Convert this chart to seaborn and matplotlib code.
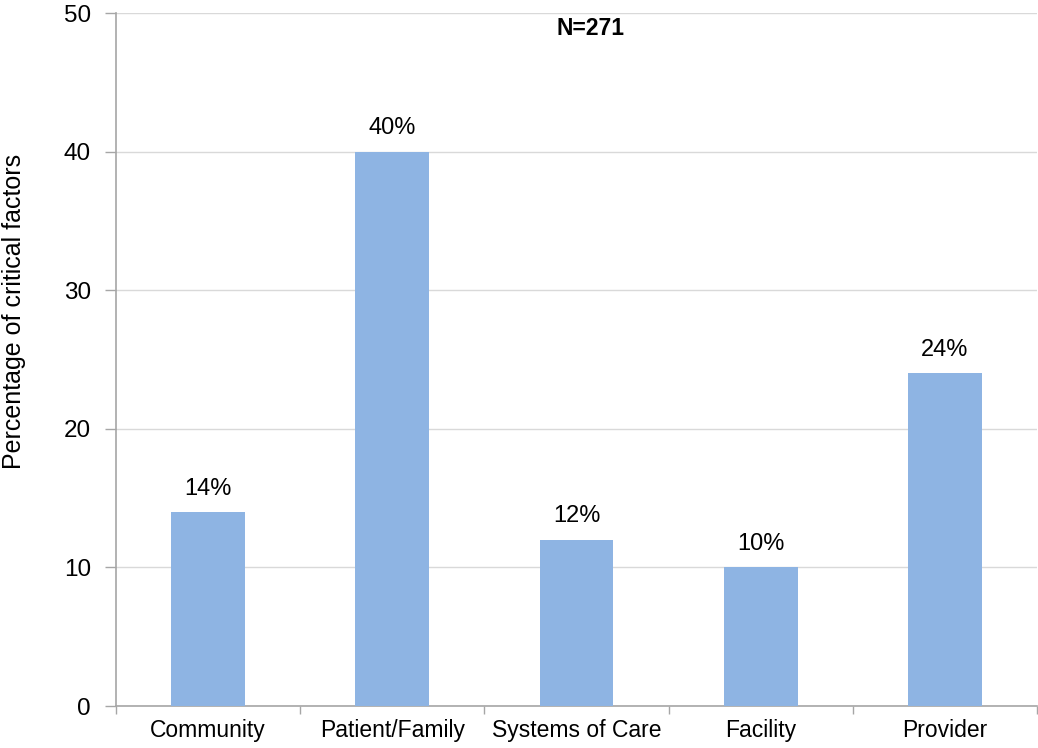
import matplotlib

matplotlib.use("Agg")
import matplotlib.pyplot as plt
import pandas as pd
import seaborn as sns

categories = ["Community", "Patient/Family", "Systems of Care", "Facility", "Provider"]
percentages = [14, 40, 12, 10, 24]
y_ticks = [0, 10, 20, 30, 40, 50]

sns.set_theme(style="white")
plt.rcParams["font.family"] = ["Liberation Sans", "DejaVu Sans"]
plt.rcParams["text.color"] = "black"
plt.rcParams["axes.labelcolor"] = "black"

df = pd.DataFrame({"category": categories, "pct": percentages})

fig = plt.figure(figsize=(10.38, 7.48), dpi=100)
ax = fig.add_axes([0.1118, 0.0561, 0.8872, 0.9265])

sns.barplot(data=df, x="category", y="pct", color="#8EB4E3", saturation=1,
            width=0.4, linewidth=0, ax=ax, zorder=3)

for i, v in enumerate(percentages):
    ax.text(i, v + 0.9, f"{v}%", ha="center", va="bottom", fontsize=17)

ax.text(0.515, 0.978, "N=271", transform=ax.transAxes, ha="center", va="center",
        fontsize=16.5, fontweight="bold")

ax.set_ylim(0, 50)
ax.set_xlim(-0.5, len(categories) - 0.5)
ax.set_yticks(y_ticks)
ax.yaxis.grid(True, color="#d9d9d9", linewidth=1, zorder=0)
ax.set_axisbelow(True)
ax.set_xlabel("")
ax.set_ylabel("Percentage of critical factors", fontsize=18)
ax.yaxis.set_label_coords(-0.098, 0.57)

# category boundary ticks on x axis
ax.set_xticks([i - 0.5 for i in range(len(categories) + 1)], minor=False)
ax.set_xticklabels([""] * (len(categories) + 1))
ax.set_xticks(range(len(categories)), minor=True)
ax.set_xticklabels(categories, minor=True, fontsize=16.5)
ax.tick_params(axis="x", which="major", length=6, width=1, color="#a6a6a6", direction="out", bottom=True)
ax.tick_params(axis="x", which="minor", length=0, pad=9, labelcolor="black")
ax.tick_params(axis="y", length=8, width=1, color="#a6a6a6", direction="out", left=True,
               labelsize=17.5, pad=10, labelcolor="black")

for side in ["top", "right"]:
    ax.spines[side].set_visible(False)
for side in ["left", "bottom"]:
    ax.spines[side].set_color("#a6a6a6")
    ax.spines[side].set_linewidth(1.2)

fig.savefig("out.png", dpi=100)
